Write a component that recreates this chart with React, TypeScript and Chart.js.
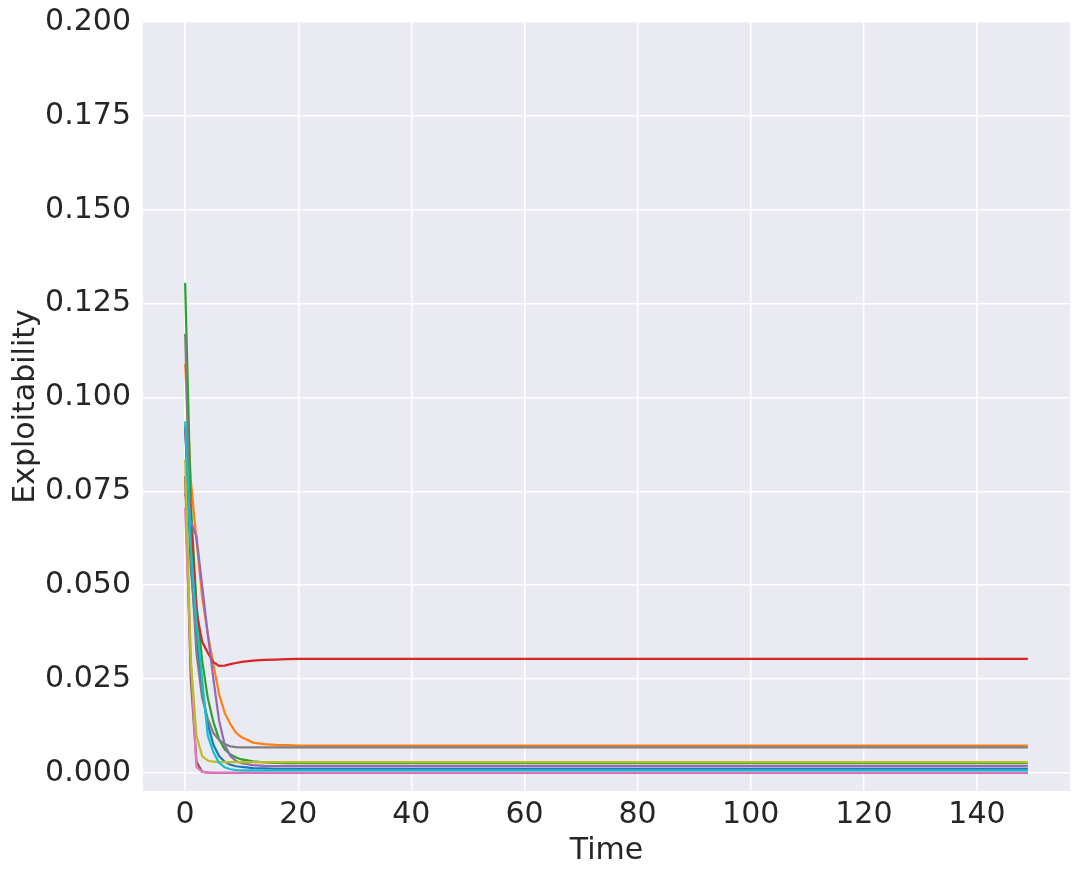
import React, { useEffect, useRef } from "react";
import { Chart, registerables } from "chart.js";

Chart.register(...registerables);

const times = [0, 1, 2, 3, 4, 5, 6, 7, 8, 9, 10, 12, 14, 16, 18, 20, 25, 30, 149];

const blueVals = [0.0925, 0.055, 0.036, 0.022, 0.013, 0.0075, 0.0045, 0.003, 0.0022, 0.0018, 0.0016, 0.0013, 0.0012, 0.0011, 0.0011, 0.0011, 0.0011, 0.0011, 0.0011];
const orangeVals = [0.109, 0.078, 0.062, 0.047, 0.037, 0.029, 0.021, 0.016, 0.013, 0.0107, 0.0095, 0.0081, 0.0077, 0.0075, 0.0074, 0.0073, 0.0073, 0.0073, 0.0073];
const greenVals = [0.1305, 0.072, 0.045, 0.03, 0.02, 0.0135, 0.009, 0.0063, 0.0049, 0.0041, 0.0036, 0.0031, 0.0028, 0.0027, 0.0026, 0.0026, 0.0026, 0.0026, 0.0026];
const redVals = [0.0917, 0.067, 0.043, 0.035, 0.032, 0.0295, 0.0285, 0.0286, 0.029, 0.0293, 0.0296, 0.0299, 0.0301, 0.0302, 0.0303, 0.0304, 0.0304, 0.0304, 0.0304];
const purpleVals = [0.0745, 0.067, 0.063, 0.05, 0.037, 0.025, 0.014, 0.0075, 0.0045, 0.0032, 0.0026, 0.0021, 0.0019, 0.0018, 0.0018, 0.0018, 0.0018, 0.0018, 0.0018];
const brownVals = [0.079, 0.025, 0.003, 0.0004, 0.0001, 0.0, 0.0, 0.0, 0.0, 0.0, 0.0, 0.0, 0.0, 0.0, 0.0, 0.0, 0.0, 0.0, 0.0];
const pinkVals = [0.0707, 0.03, 0.0016, 0.0003, 0.0001, 0.0001, 0.0001, 0.0001, 0.0001, 0.0001, 0.0001, 0.0001, 0.0001, 0.0001, 0.0001, 0.0001, 0.0001, 0.0001, 0.0001];
const grayVals = [0.117, 0.058, 0.032, 0.02, 0.0145, 0.0106, 0.0088, 0.0077, 0.0071, 0.0069, 0.0068, 0.0068, 0.0068, 0.0068, 0.0068, 0.0068, 0.0068, 0.0068, 0.0068];
const oliveVals = [0.0835, 0.03, 0.01, 0.0045, 0.0033, 0.003, 0.0029, 0.0029, 0.0029, 0.0029, 0.0029, 0.0029, 0.0029, 0.0029, 0.0029, 0.0029, 0.0029, 0.0029, 0.0029];
const cyanVals = [0.0936, 0.06, 0.04, 0.025, 0.01, 0.0055, 0.0027, 0.0015, 0.001, 0.0008, 0.0007, 0.0007, 0.0007, 0.0007, 0.0007, 0.0007, 0.0007, 0.0007, 0.0007];

const seriesValues = [blueVals, orangeVals, greenVals, redVals, purpleVals, brownVals, pinkVals, grayVals, oliveVals, cyanVals];
const seriesColors = ["#1f77b4", "#ff7f0e", "#2ca02c", "#d62728", "#9467bd", "#8c564b", "#e377c2", "#7f7f7f", "#bcbd22", "#17becf"];

const xTicks = [0, 20, 40, 60, 80, 100, 120, 140];
const yTicks = [0, 0.025, 0.05, 0.075, 0.1, 0.125, 0.15, 0.175, 0.2];

const bgPlugin = {
  id: "plotBg",
  beforeDraw(chart: any) {
    const { ctx, chartArea } = chart;
    ctx.save();
    ctx.fillStyle = "#EAEAF2";
    ctx.fillRect(chartArea.left, chartArea.top, chartArea.right - chartArea.left, chartArea.bottom - chartArea.top);
    ctx.restore();
  },
};

export default function App() {
  const ref = useRef<HTMLCanvasElement>(null);
  useEffect(() => {
    if (!ref.current) return;
    const font = { family: "'DejaVu Sans', sans-serif", size: 30 };
    const n = seriesValues.length;
    const chart = new Chart(ref.current, {
      type: "line",
      data: {
        datasets: seriesValues.map((vals, i) => ({
          data: vals.map((v, j) => ({ x: times[j], y: v })),
          borderColor: seriesColors[i],
          backgroundColor: seriesColors[i],
          borderWidth: 2.2,
          pointRadius: 0,
          tension: 0,
          fill: false,
          order: n - i,
        })),
      },
      options: {
        animation: false,
        responsive: false,
        maintainAspectRatio: false,
        layout: { padding: { top: 22, right: 11, left: 0, bottom: 0 } },
        plugins: { legend: { display: false }, tooltip: { enabled: false } },
        scales: {
          x: {
            type: "linear",
            min: -7.45,
            max: 156.45,
            afterFit: (s: any) => { s.height = 83; s.paddingLeft = 0; s.paddingRight = 0; },
            afterBuildTicks: (s: any) => { s.ticks = xTicks.map((v) => ({ value: v })); },
            grid: { color: "#ffffff", lineWidth: 1.5, drawTicks: false },
            border: { display: false },
            ticks: { font, color: "#262626", padding: 6, maxRotation: 0, callback: (v: any) => String(v) },
            title: { display: true, text: "Time", font, color: "#262626", padding: { top: 0, bottom: 5 } },
          },
          y: {
            type: "linear",
            min: -0.0048,
            max: 0.2,
            afterFit: (s: any) => { s.width = 143; s.paddingTop = 0; s.paddingBottom = 0; },
            afterBuildTicks: (s: any) => { s.ticks = yTicks.map((v) => ({ value: v })); },
            grid: { color: "#ffffff", lineWidth: 1.5, drawTicks: false },
            border: { display: false },
            ticks: { font, color: "#262626", padding: 12, callback: (v: any) => Number(v).toFixed(3) },
            title: { display: true, text: "Exploitability", font, color: "#262626", padding: { top: 8, bottom: 0 } },
          },
        },
      },
      plugins: [bgPlugin],
    });
    return () => chart.destroy();
  }, []);
  return (
    <div style={{ position: "absolute", left: 0, top: 0, width: 1081, height: 874, background: "#ffffff" }}>
      <canvas ref={ref} width={1081} height={874} style={{ width: 1081, height: 874 }} />
    </div>
  );
}
